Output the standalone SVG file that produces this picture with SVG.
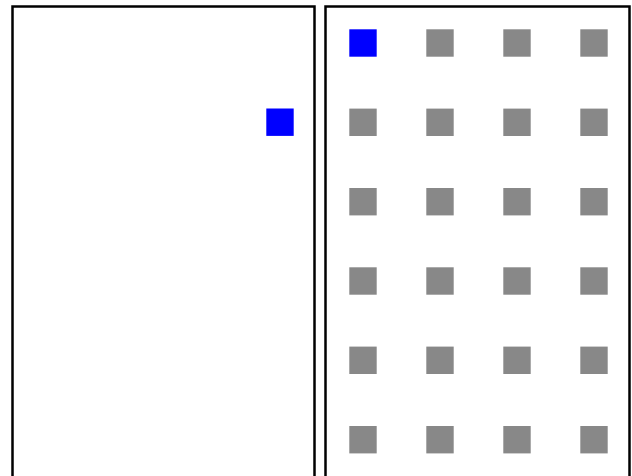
<svg xmlns="http://www.w3.org/2000/svg" width="632" height="476" viewBox="0 0 632 476">
<style>
.panel{fill:#fff;stroke:#000;stroke-width:2.5}
.g{fill:#888}
.b{fill:#00f}
</style>
<rect width="632" height="476" fill="#fff"/>
<g id="left-panel">
<rect class="panel" x="12.5" y="6.5" width="302" height="480"/>
<rect class="b" x="266.3" y="108.5" width="27.4" height="27.4"/>
</g>
<g id="right-panel">
<rect class="panel" x="325.5" y="6.5" width="304" height="480"/>
<rect class="b" x="349.3" y="29.3" width="27.4" height="27.4"/>
<g class="g">
<rect x="426.3" y="29.3" width="27.4" height="27.4"/>
<rect x="503.3" y="29.3" width="27.4" height="27.4"/>
<rect x="580.3" y="29.3" width="27.4" height="27.4"/>
<rect x="349.3" y="108.6" width="27.4" height="27.4"/>
<rect x="426.3" y="108.6" width="27.4" height="27.4"/>
<rect x="503.3" y="108.6" width="27.4" height="27.4"/>
<rect x="580.3" y="108.6" width="27.4" height="27.4"/>
<rect x="349.3" y="188" width="27.4" height="27.4"/>
<rect x="426.3" y="188" width="27.4" height="27.4"/>
<rect x="503.3" y="188" width="27.4" height="27.4"/>
<rect x="580.3" y="188" width="27.4" height="27.4"/>
<rect x="349.3" y="267.3" width="27.4" height="27.4"/>
<rect x="426.3" y="267.3" width="27.4" height="27.4"/>
<rect x="503.3" y="267.3" width="27.4" height="27.4"/>
<rect x="580.3" y="267.3" width="27.4" height="27.4"/>
<rect x="349.3" y="346.6" width="27.4" height="27.4"/>
<rect x="426.3" y="346.6" width="27.4" height="27.4"/>
<rect x="503.3" y="346.6" width="27.4" height="27.4"/>
<rect x="580.3" y="346.6" width="27.4" height="27.4"/>
<rect x="349.3" y="426" width="27.4" height="27.4"/>
<rect x="426.3" y="426" width="27.4" height="27.4"/>
<rect x="503.3" y="426" width="27.4" height="27.4"/>
<rect x="580.3" y="426" width="27.4" height="27.4"/>
</g>
</g>
</svg>
